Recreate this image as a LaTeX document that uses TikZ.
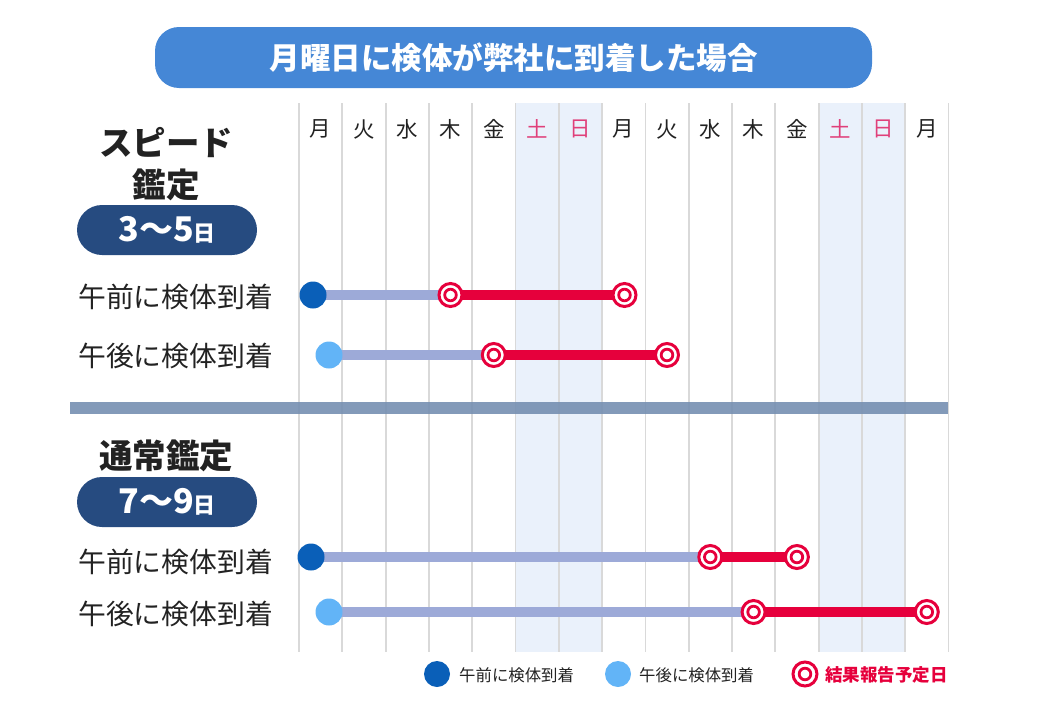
\documentclass[tikz,border=0pt]{standalone}
\usepackage{fontspec}
\setmainfont{Noto Sans CJK JP}
\definecolor{titlebg}{HTML}{4587D6}
\definecolor{navy}{HTML}{264B80}
\definecolor{divc}{HTML}{7891B3}
\definecolor{gridc}{HTML}{D9D9D9}
\definecolor{wkd}{HTML}{EAF1FB}
\definecolor{wkdtxt}{HTML}{E0407A}
\definecolor{redbar}{HTML}{E6003C}
\definecolor{graybar}{HTML}{9DAAD8}
\definecolor{darkdot}{HTML}{0A5FB8}
\definecolor{lightdot}{HTML}{62B4F7}
\definecolor{txt}{HTML}{222222}
\pgfdeclarelayer{gridlayer}
\pgfdeclarelayer{barlayer}
\pgfsetlayers{gridlayer,barlayer,main}
\tikzset{
  titlebox/.style={fill=titlebg, rounded corners=24pt, minimum width=717pt, minimum height=61pt, text=white, font=\fontsize{30.5}{33}\selectfont\bfseries, inner sep=0pt},
  pill/.style={fill=navy, rounded corners=25pt, minimum width=180pt, minimum height=50pt, text=white, inner sep=0pt},
  head/.style={text=txt, font=\fontsize{33.5}{36}\selectfont\bfseries, inner sep=0pt},
  rowlabel/.style={text=txt, font=\fontsize{27.8}{32}\selectfont, anchor=west, inner sep=0pt},
  daylabel/.style={text=txt, font=\fontsize{21.5}{24}\selectfont, inner sep=0pt},
  wkdlabel/.style={daylabel, text=wkdtxt},
  gridline/.style={draw=gridc, line width=1.8pt},
  amdot/.style={circle, fill=darkdot, minimum size=27pt, inner sep=0pt},
  pmdot/.style={circle, fill=lightdot, minimum size=27pt, inner sep=0pt},
  ringmark/.style={circle, draw=redbar, fill=white, line width=3pt, minimum size=23pt, inner sep=0pt,
    path picture={\draw[redbar, line width=2.8pt] (path picture bounding box.center) circle (5.8pt);}},
  waitbar/.style={draw=graybar, line width=10pt},
  resultbar/.style={draw=redbar, line width=10pt},
  legtext/.style={text=txt, font=\fontsize{16.4}{19}\selectfont, anchor=west, inner sep=0pt},
}
\begin{document}
\begin{tikzpicture}[x=1pt,y=-1pt]
\useasboundingbox (0,0) rectangle (1042,720);
% weekend shading and grid
\begin{pgfonlayer}{gridlayer}
\fill[wkd] (515.5,103) rectangle (602.1,652);
\fill[wkd] (818.6,103) rectangle (905.2,652);
\foreach \i in {0,...,15} {
  \draw[gridline] ({299+43.3*\i},103) -- ({299+43.3*\i},652);
}
\end{pgfonlayer}
% title
\node[titlebox] (title) at (513.5,57.5) {月曜日に検体が弊社に到着した場合};
% day labels
\node[daylabel] (d0) at (320.6,129) {月};
\node[daylabel] (d1) at (363.9,129) {火};
\node[daylabel] (d2) at (407.2,129) {水};
\node[daylabel] (d3) at (450.5,129) {木};
\node[daylabel] (d4) at (493.8,129) {金};
\node[wkdlabel] (d5) at (537.1,129) {土};
\node[wkdlabel] (d6) at (580.4,129) {日};
\node[daylabel] (d7) at (623.7,129) {月};
\node[daylabel] (d8) at (667.0,129) {火};
\node[daylabel] (d9) at (710.3,129) {水};
\node[daylabel] (d10) at (753.6,129) {木};
\node[daylabel] (d11) at (796.9,129) {金};
\node[wkdlabel] (d12) at (840.2,129) {土};
\node[wkdlabel] (d13) at (883.5,129) {日};
\node[daylabel] (d14) at (926.8,129) {月};
% divider
\fill[divc, opacity=0.92] (70,402) rectangle (948,414);
% speed section
\node[head] (sp1) at (166,143) {スピード};
\node[head] (sp2) at (166,185) {鑑定};
\node[pill] (p1) at (167,230) {\fontsize{34}{36}\selectfont\bfseries 3〜5\fontsize{22}{24}\selectfont 日};
\node[rowlabel] (l1) at (78,297) {午前に検体到着};
\node[rowlabel] (l2) at (78,356) {午後に検体到着};
\node[amdot] (s1a) at (313,295) {};
\node[ringmark] (s1b) at (450.5,295) {};
\node[ringmark] (s1c) at (624.5,295) {};
\node[pmdot] (s2a) at (329,355) {};
\node[ringmark] (s2b) at (493.8,355) {};
\node[ringmark] (s2c) at (667,355) {};
% normal section
\node[head] (nm1) at (166,456) {通常鑑定};
\node[pill] (p2) at (167,502) {\fontsize{34}{36}\selectfont\bfseries 7〜9\fontsize{22}{24}\selectfont 日};
\node[rowlabel] (l3) at (78,562) {午前に検体到着};
\node[rowlabel] (l4) at (78,614) {午後に検体到着};
\node[amdot] (n1a) at (311,557) {};
\node[ringmark] (n1b) at (710.3,557) {};
\node[ringmark] (n1c) at (796.9,557) {};
\node[pmdot] (n2a) at (329,612) {};
\node[ringmark] (n2b) at (753.6,612) {};
\node[ringmark] (n2c) at (926.8,612) {};
% bars
\begin{pgfonlayer}{barlayer}
\draw[waitbar] (s1a.center) -- (s1b.center);
\draw[resultbar] (s1b.center) -- (s1c.center);
\draw[waitbar] (s2a.center) -- (s2b.center);
\draw[resultbar] (s2b.center) -- (s2c.center);
\draw[waitbar] (n1a.center) -- (n1b.center);
\draw[resultbar] (n1b.center) -- (n1c.center);
\draw[waitbar] (n2a.center) -- (n2b.center);
\draw[resultbar] (n2b.center) -- (n2c.center);
\end{pgfonlayer}
% legend
\node[amdot, minimum size=26pt] (lg1) at (437,674) {};
\node[legtext] (lt1) at (459,675) {午前に検体到着};
\node[pmdot, minimum size=26pt] (lg2) at (618,674) {};
\node[legtext] (lt2) at (639,675) {午後に検体到着};
\node[ringmark, minimum size=24pt] (lg3) at (805,674) {};
\node[legtext, text=redbar, font=\fontsize{17.5}{20}\selectfont] (lt3) at (825,675) {\bfseries 結果報告予定日};
\end{tikzpicture}
\end{document}
